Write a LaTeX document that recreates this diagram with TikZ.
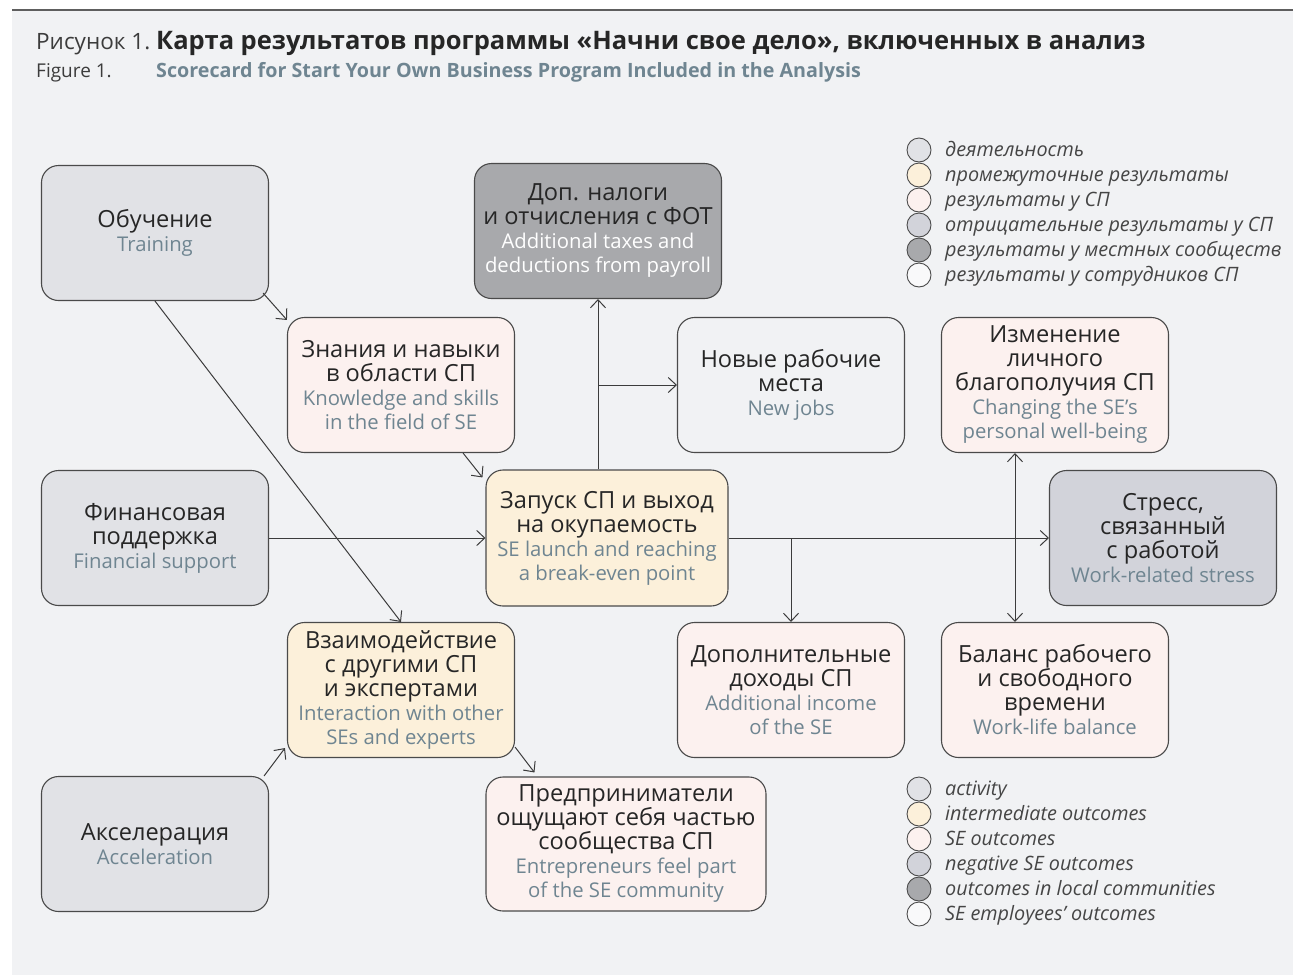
\documentclass[tikz,border=0pt]{standalone}
\usepackage{fontspec}
\setmainfont{Open Sans}
\usepackage{tikz}
\usetikzlibrary{arrows.meta,positioning}
\usepackage{xcolor}
\definecolor{panel}{HTML}{F1F2F4}
\definecolor{topline}{HTML}{5E5E5E}
\definecolor{ink}{HTML}{262626}
\definecolor{engtext}{HTML}{6F8591}
\definecolor{edge}{HTML}{4A4A4A}
\definecolor{wire}{HTML}{3C3C3C}
\definecolor{actfill}{HTML}{E1E2E6}
\definecolor{midfill}{HTML}{FCF0DA}
\definecolor{sefill}{HTML}{FCF1EF}
\definecolor{negfill}{HTML}{D2D3DA}
\definecolor{locfill}{HTML}{A8A9AC}
\definecolor{empfill}{HTML}{F9F9FA}
\definecolor{legink}{HTML}{454545}
\lineskiplimit=-100pt

% English line under the Russian one
\newcommand{\eng}[2][engtext]{{\color{#1}\fontsize{20.3pt}{24pt}\selectfont #2}}

\begin{document}
\begin{tikzpicture}[
  x=1pt, y=-1pt,
  every node/.style={font=\fontsize{23.6pt}{24pt}\selectfont, text=ink},
  card/.style={draw=edge, line width=1.1pt, rounded corners=17pt, align=center,
               inner sep=0pt, minimum width=227pt, minimum height=135pt},
  actbox/.style={card, fill=actfill},
  midbox/.style={card, fill=midfill},
  sebox/.style={card, fill=sefill},
  negbox/.style={card, fill=negfill},
  locbox/.style={card, fill=locfill},
  empbox/.style={card},
  arr/.style={-{Straight Barb[length=8pt,width=15pt]}, draw=wire, line width=1pt},
  arrboth/.style={{Straight Barb[length=8pt,width=15pt]}-{Straight Barb[length=8pt,width=15pt]},
                  draw=wire, line width=1pt},
  legdot/.style={circle, draw=edge, line width=0.9pt, minimum size=24pt, inner sep=0pt},
  legtext/.style={anchor=base west, inner sep=0pt,
                  font=\fontsize{19.8pt}{22pt}\selectfont\itshape, text=legink}
]
  \useasboundingbox (0,0) rectangle (1293,975);
  \fill[panel] (12,10) rectangle (1293,975);
  \draw[topline, line width=1.3pt] (12,10) -- (1293,10);

  % Title
  \node[anchor=base west, inner sep=0pt, font=\fontsize{22.5pt}{28pt}\selectfont, text=ink!90]
    (figru) at (36,49) {Рисунок 1.};
  \node[anchor=base west, inner sep=0pt, font=\bfseries\fontsize{25.5pt}{28pt}\selectfont, text=ink]
    (titleru) at (156,49) {Карта результатов программы «Начни свое дело», включенных в анализ};
  \node[anchor=base west, inner sep=0pt, font=\fontsize{19pt}{22pt}\selectfont, text=ink!90]
    (figen) at (36,77) {Figure 1.};
  \node[anchor=base west, inner sep=0pt, font=\bfseries\fontsize{19.7pt}{22pt}\selectfont, text=engtext]
    (titleen) at (156,77) {Scorecard for Start Your Own Business Program Included in the Analysis};

  % Activities
  \node[actbox] (train) at (155,233) {Обучение\\\eng{Training}};
  \node[actbox] (finance) at (155,538) {Финансовая\\поддержка\\\eng{Financial support}};
  \node[actbox] (accel) at (155,844) {Акселерация\\\eng{Acceleration}};

  % Outcomes
  \node[sebox] (know) at (401,385)
    {Знания и навыки\\в области СП\\\eng{Knowledge and skills}\\\eng{in the field of SE}};
  \node[midbox] (interact) at (401,690)
    {Взаимодействие\\с другими СП\\и экспертами\\\eng{Interaction with other}\\\eng{SEs and experts}};
  \node[midbox, minimum width=242pt, minimum height=136pt] (launch) at (607,538)
    {Запуск СП и выход\\на окупаемость\\\eng{SE launch and reaching}\\\eng{a break-even point}};
  \node[locbox, minimum width=247pt] (taxes) at (598,231)
    {Доп. налоги\\и отчисления с ФОТ\\\eng[white]{Additional taxes and}\\\eng[white]{deductions from payroll}};
  \node[empbox] (jobs) at (791,385) {Новые рабочие\\места\\\eng{New jobs}};
  \node[sebox] (well) at (1055,385)
    {Изменение\\личного\\благополучия СП\\\eng{Changing the SE’s}\\\eng{personal well-being}};
  \node[negbox] (stress) at (1163,538)
    {Стресс,\\связанный\\с работой\\\eng{Work-related stress}};
  \node[sebox] (income) at (791,690)
    {Дополнительные\\доходы СП\\\eng{Additional income}\\\eng{of the SE}};
  \node[sebox] (balance) at (1055,690)
    {Баланс рабочего\\и свободного\\времени\\\eng{Work-life balance}};
  \node[sebox, minimum width=280pt, minimum height=134pt] (community) at (626,844)
    {Предприниматели\\ощущают себя частью\\сообщества СП\\\eng{Entrepreneurs feel part}\\\eng{of the SE community}};

  % Connectors
  \draw[arr] ([xshift=-6pt,yshift=8pt]train.south east) -- ([xshift=0pt,yshift=-3pt]know.north west);
  \draw[arr] (train.south) -- (interact.north);
  \draw[arr] ([xshift=-52pt]know.south east) -- ([xshift=-3pt,yshift=-8pt]launch.north west);
  \draw[arr] (finance.east) -- (launch.west);
  \draw[arr] ([xshift=-5pt]accel.north east) -- ([xshift=-2pt,yshift=10pt]interact.south west);
  \draw[arr] ([yshift=11pt]interact.south east) -- ([xshift=49pt,yshift=4pt]community.north west);
  \draw[arr] (launch.north -| taxes.south) -- (taxes.south);
  \draw[arr] (jobs.west -| taxes.south) -- (jobs.west);
  \draw[arr] (launch.east) -- (stress.west);
  \draw[arr] (launch.east -| income.north) -- (income.north);
  \draw[arrboth] ([xshift=-40pt]well.south) -- ([xshift=-40pt]balance.north);

  % Legend (Russian)
  \node[legdot, fill=actfill] (rdot1) at (919,150) {};
  \node[legdot, fill=midfill] (rdot2) at (919,175) {};
  \node[legdot, fill=sefill]  (rdot3) at (919,200) {};
  \node[legdot, fill=negfill] (rdot4) at (919,225) {};
  \node[legdot, fill=locfill] (rdot5) at (919,250) {};
  \node[legdot, fill=empfill] (rdot6) at (919,275) {};
  \node[legtext] (rtext1) at (945,156) {деятельность};
  \node[legtext] (rtext2) at (945,181) {промежуточные результаты};
  \node[legtext] (rtext3) at (945,206) {результаты у СП};
  \node[legtext] (rtext4) at (945,231) {отрицательные результаты у СП};
  \node[legtext] (rtext5) at (945,256) {результаты у местных сообществ};
  \node[legtext] (rtext6) at (945,281) {результаты у сотрудников СП};

  % Legend (English)
  \node[legdot, fill=actfill] (edot1) at (919,789) {};
  \node[legdot, fill=midfill] (edot2) at (919,814) {};
  \node[legdot, fill=sefill]  (edot3) at (919,839) {};
  \node[legdot, fill=negfill] (edot4) at (919,864) {};
  \node[legdot, fill=locfill] (edot5) at (919,889) {};
  \node[legdot, fill=empfill] (edot6) at (919,914) {};
  \node[legtext] (etext1) at (945,795) {activity};
  \node[legtext] (etext2) at (945,820) {intermediate outcomes};
  \node[legtext] (etext3) at (945,845) {SE outcomes};
  \node[legtext] (etext4) at (945,870) {negative SE outcomes};
  \node[legtext] (etext5) at (945,895) {outcomes in local communities};
  \node[legtext] (etext6) at (945,920) {SE employees’ outcomes};
\end{tikzpicture}
\end{document}
